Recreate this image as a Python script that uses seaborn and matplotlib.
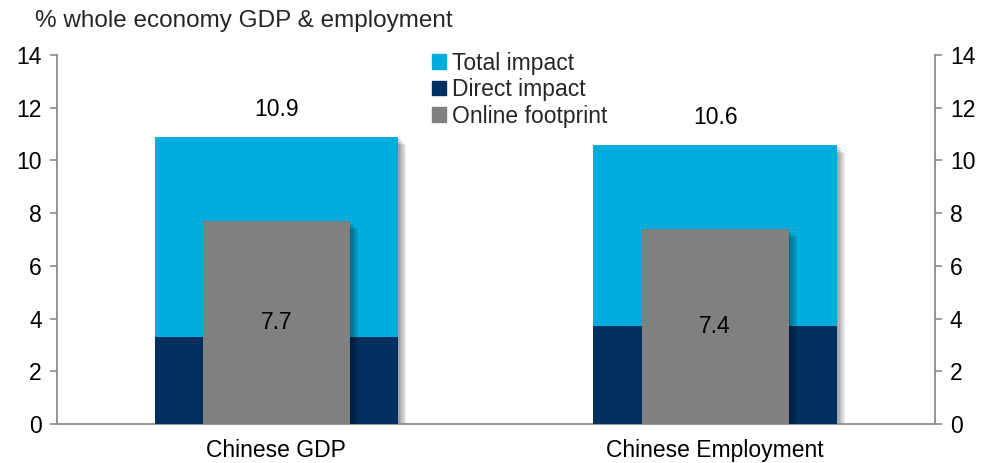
import matplotlib
matplotlib.use("Agg")
import matplotlib.pyplot as plt
import matplotlib.patheffects as pe
from matplotlib.patches import Patch
import seaborn as sns
import pandas as pd

# ── Datos ──────────────────────────────────────────────────────────────────
categorias = ["Chinese GDP", "Chinese Employment"]
total_impact = [10.9, 10.6]
direct_impact = [3.3, 3.7]
online_footprint = [7.7, 7.4]

AZUL_CLARO = "#00ACDC"
AZUL_OSCURO = "#00305F"
GRIS = "#808080"
EJE = "#8C8C8C"
FS = 16.5

sns.set_theme(style="white")
plt.rcParams["font.family"] = ["Liberation Sans", "DejaVu Sans"]

df = pd.DataFrame({
    "cat": categorias,
    "total": total_impact,
    "direct": direct_impact,
    "online": online_footprint,
})

fig = plt.figure(figsize=(9.86, 4.63), dpi=100)
ax = fig.add_axes([0.0578, 0.0842, 0.8900, 0.7970])

# sombra difusa: varias capas desplazadas
sombra = [pe.SimplePatchShadow(offset=(k, -k), shadow_rgbFace="black", alpha=0.07)
          for k in range(1, 7)] + [pe.Normal()]

sns.barplot(data=df, x="cat", y="total", color=AZUL_CLARO, width=0.555,
            saturation=1, ax=ax, zorder=2)
sns.barplot(data=df, x="cat", y="direct", color=AZUL_OSCURO, width=0.555,
            saturation=1, ax=ax, zorder=3)
sns.barplot(data=df, x="cat", y="online", color=GRIS, width=0.335,
            saturation=1, ax=ax, zorder=4)

for i, p in enumerate(ax.patches):
    p.set_linewidth(0)
    if i < 2 or i >= 4:
        p.set_path_effects(sombra)

# etiquetas de valores
for i, (t, o) in enumerate(zip(total_impact, online_footprint)):
    ax.text(i, t + 0.6, f"{t:.1f}", ha="center", va="bottom", fontsize=FS, color="black")
    ax.text(i, o / 2, f"{o:.1f}", ha="center", va="center", fontsize=FS, color="black", zorder=6)

ax.set_xlim(-0.5, 1.5)
ax.set_ylim(0, 14)
ax.set_yticks(range(0, 15, 2))
ax.set_xlabel("")
ax.set_ylabel("")

ax.spines["top"].set_visible(False)
for lado in ["left", "right", "bottom"]:
    ax.spines[lado].set_visible(True)
    ax.spines[lado].set_color(EJE)
    ax.spines[lado].set_linewidth(1.3)

ax.tick_params(axis="y", which="both", left=True, right=True, labelleft=True, labelright=True,
               direction="out", length=5, width=1.2, color=EJE, labelsize=FS, pad=6)
ax.tick_params(axis="x", bottom=False, labelsize=FS, pad=5)
for lbl in ax.get_yticklabels() + ax.get_xticklabels():
    lbl.set_color("black")

leyenda = [Patch(color=AZUL_CLARO, label="Total impact"),
           Patch(color=AZUL_OSCURO, label="Direct impact"),
           Patch(color=GRIS, label="Online footprint")]
ax.legend(handles=leyenda, loc="upper left", bbox_to_anchor=(0.414, 1.04), frameon=False,
          fontsize=FS, handlelength=0.6, handleheight=0.6, handletextpad=0.3,
          labelspacing=0.15, borderpad=0)

fig.text(0.036, 0.955, "% whole economy GDP & employment", fontsize=17.5, ha="left", va="center")

fig.savefig("out.png", dpi=100)
plt.close()
